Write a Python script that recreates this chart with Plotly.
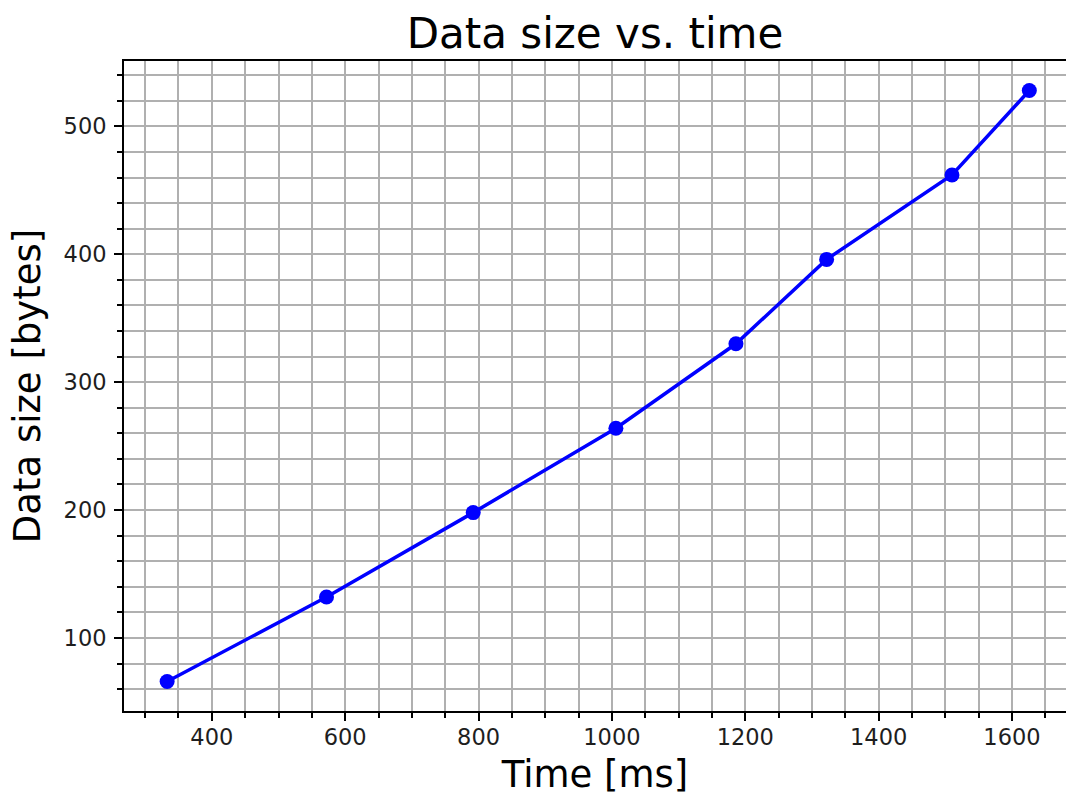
import plotly.graph_objects as go

time_ms = [333, 572, 792, 1006, 1186, 1322, 1510, 1626]
data_bytes = [66, 132, 198, 264, 330, 396, 462, 528]

title_text = "Data size vs. time"
x_label = "Time [ms]"
y_label = "Data size [bytes]"

FONT = "DejaVu Sans"
BLUE = "#0000ff"
GRID = "#b0b0b0"
TXT = "#1e1e1e"

fig = go.Figure()
fig.add_trace(go.Scatter(x=time_ms, y=data_bytes, mode="markers",
                         marker=dict(color=BLUE, size=15, line=dict(width=0)),
                         showlegend=False))
fig.add_trace(go.Scatter(x=time_ms, y=data_bytes, mode="lines",
                         line=dict(color=BLUE, width=3.5),
                         showlegend=False))

axis_common = dict(
    showline=True, linecolor="black", linewidth=1.9,
    showgrid=True, gridcolor=GRID, gridwidth=1.9,
    ticks="outside", ticklen=8, tickwidth=1.9, tickcolor="black",
    tickfont=dict(family=FONT, size=22.5, color=TXT),
    zeroline=False,
)

fig.update_layout(
    width=1066, height=796,
    margin=dict(l=124, r=0, t=61, b=85),
    paper_bgcolor="white", plot_bgcolor="white",
    font=dict(family=FONT, color="black"),
    title=dict(text=title_text, x=0.5, xanchor="center", xref="paper",
               y=1 - 33 / 796, yref="container", yanchor="middle",
               font=dict(family=FONT, size=42, color="black")),
    xaxis=dict(range=[268.3, 1681], tick0=0, dtick=200, mirror=True,
               ticklabelstandoff=-3,
               title=dict(text=x_label, font=dict(family=FONT, size=37, color="black"), standoff=14),
               minor=dict(dtick=50, tick0=0, showgrid=True, gridcolor=GRID, gridwidth=1.9,
                          ticks="outside", ticklen=5, tickwidth=1.9, tickcolor="black"),
               **axis_common),
    yaxis=dict(range=[42.9, 551.1], tick0=0, dtick=100, mirror=False,
               ticklabelstandoff=3,
               title=dict(text=y_label, font=dict(family=FONT, size=37, color="black"), standoff=12),
               minor=dict(dtick=20, tick0=0, showgrid=True, gridcolor=GRID, gridwidth=1.9,
                          ticks="outside", ticklen=5, tickwidth=1.9, tickcolor="black"),
               **axis_common),
)

fig.write_html("out.html")
